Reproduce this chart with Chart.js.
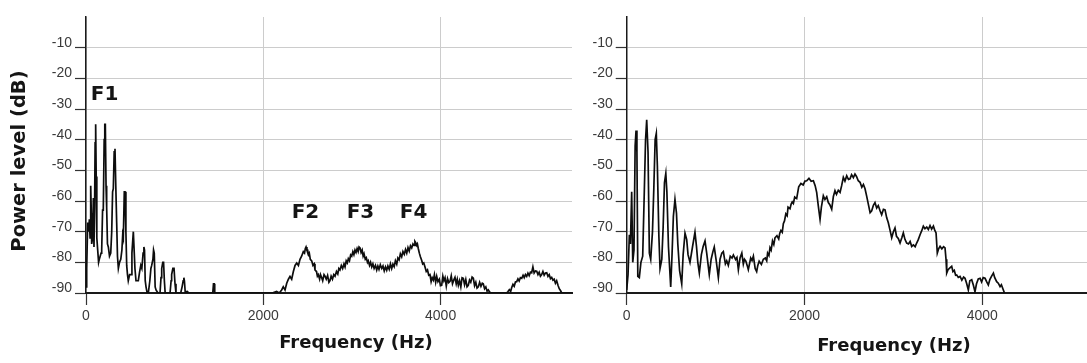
<!DOCTYPE html>
<html>
<head>
<meta charset="utf-8">
<script src="https://cdn.jsdelivr.net/npm/chart.js@4.4.1/dist/chart.umd.min.js"></script>
<style>
  html, body { margin: 0; padding: 0; background: #ffffff; }
  #wrap { position: relative; width: 1087px; height: 363px; overflow: hidden; background: #fff; }
  canvas { position: absolute; top: 0; }
  #cL { left: 0; }
  #cR { left: 580px; }
</style>
</head>
<body>
<div id="wrap">
  <canvas id="cL" width="580" height="363"></canvas>
  <canvas id="cR" width="507" height="363"></canvas>
</div>
<script>
// ---------- DATA ----------
const xTickValues = [0, 2000, 4000];
const yTickValues = [-90, -80, -70, -60, -50, -40, -30, -20, -10];
const yAxisTitle = 'Power level (dB)';
const xAxisTitle = 'Frequency (Hz)';

// formant labels (left panel)
const formantNames = ['F1', 'F2', 'F3', 'F4'];
const formantFreq  = [209, 2475, 3096, 3695];
const formantDb    = [-25.4, -63.7, -63.7, -63.7];

// left spectrum
const leftFreq = [0,8,19,30,38,46,53,60,64,75,83,90,97,103,109,115,122,132,142,150,160,170,177,187,195,205,212,218,226,233,242,252,265,279,290,300,308,318,327,336,346,355,365,378,392,405,414,421,432,440,450,459,468,477,492,508,518,527,534,541,552,564,577,590,605,618,630,644,653,660,668,677,690,703,720,732,741,755,762,770,780,790,812,835,846,854,866,875,884,893,910,930,948,960,966,980,993,1004,1015,1040,1068,1084,1096,1104,1110,1120,1140,1160,1200,1300,1430,1438,1446,1452,1600,1800,2000,2100,2150,2180,2207,2225,2245,2264,2283,2301,2320,2339,2358,2377,2396,2414,2432,2451,2465,2474,2482,2492,2500,2510,2519,2530,2546,2560,2574,2583,2600,2610,2620,2635,2645,2659,2670,2685,2696,2710,2725,2740,2752,2765,2780,2795,2809,2825,2840,2852,2865,2880,2895,2910,2922,2935,2948,2959,2972,2985,2997,3010,3022,3034,3046,3058,3070,3080,3091,3103,3115,3126,3136,3150,3162,3175,3184,3198,3210,3223,3236,3250,3265,3279,3292,3305,3320,3336,3350,3364,3378,3392,3405,3420,3434,3448,3462,3476,3490,3505,3518,3532,3546,3561,3575,3590,3604,3618,3632,3646,3660,3674,3688,3700,3710,3719,3728,3738,3748,3760,3772,3786,3798,3810,3824,3838,3852,3866,3880,3893,3905,3918,3930,3944,3956,3970,3985,3998,4012,4025,4037,4050,4064,4078,4092,4106,4120,4134,4148,4162,4176,4188,4200,4214,4228,4242,4256,4270,4284,4298,4312,4326,4340,4355,4369,4383,4397,4411,4425,4440,4455,4470,4481,4496,4510,4524,4538,4556,4576,4620,4680,4745,4760,4775,4790,4802,4816,4830,4844,4858,4872,4886,4900,4915,4930,4943,4957,4971,4985,4999,5013,5027,5041,5055,5070,5084,5098,5112,5126,5140,5154,5168,5182,5197,5211,5225,5239,5253,5267,5281,5295,5309,5324,5338,5352,5366,5480];
const leftDb = [-88,-82,-67,-70,-66,-72,-55,-64,-74,-72,-59,-75,-62,-41,-35,-52,-72,-76,-80,-79,-78,-77,-76,-63,-63,-40,-35,-35,-55,-62,-74,-75,-78,-77,-70,-57,-56,-44,-43,-55,-67,-78,-82,-80,-79,-76,-71,-72,-57,-57,-70,-81,-84,-86,-84,-84,-77,-73,-70,-70,-82,-86,-86,-86,-83,-81,-82,-77,-75,-76,-86,-88,-90,-90,-86,-82,-81,-79,-76,-77,-88,-89,-90,-90,-85,-82,-80,-80,-86,-90,-90,-90,-90,-86,-84,-82,-82,-87,-90,-90,-90,-88,-86,-85,-86,-90,-89.5,-90,-90,-90,-90,-87,-87,-90,-90,-90,-90,-90,-89.5,-90,-89,-88,-89,-86.8,-85.5,-84.6,-85.5,-83,-81,-80.2,-81,-79,-78,-76.5,-77,-75.5,-75,-76,-76,-77.5,-77,-79,-79.5,-81,-80.5,-82.5,-83,-84.5,-84,-85.5,-84,-85,-86,-84,-84.5,-85.5,-84.3,-86.5,-86,-84.5,-85.5,-84,-84.5,-83,-83.8,-82,-82.5,-81,-82,-80.5,-81.5,-79.5,-80.2,-78.8,-79.5,-77.6,-78,-76.5,-77.5,-76,-76.8,-75.5,-76.5,-75,-75.3,-76.8,-76,-78,-77.2,-79,-78.5,-80,-79.5,-81,-80,-81.5,-80.5,-82,-81,-82.5,-81.2,-82.3,-80.8,-82,-81.2,-82.8,-81.5,-82.6,-81.2,-82.3,-80.5,-82,-80.6,-81.4,-79.5,-80.6,-78.6,-79.2,-77.2,-78.2,-76.5,-77.4,-75.8,-77,-75.2,-76.3,-74.6,-75.3,-74,-74.5,-73.2,-73.6,-74.5,-74,-75.5,-77,-78.2,-79.3,-80.5,-80.2,-81.5,-83,-82.5,-84.2,-84,-86.3,-85,-85.8,-84,-86.5,-84.6,-86.3,-85.5,-87.6,-87.5,-84.5,-86,-85,-87.8,-85.3,-86.6,-86.2,-84.4,-87,-85.8,-84.9,-87,-85.5,-87.5,-86,-88,-85,-85.2,-87.3,-85.6,-88,-87.5,-85.8,-86.5,-84.8,-85.2,-87.6,-86.5,-88.4,-88,-86.5,-87.8,-86.8,-87,-88.6,-88,-89.4,-89,-89.8,-90,-90,-90,-90,-89.5,-88.9,-89.5,-88.2,-87.2,-87.8,-86.4,-86.3,-85.4,-86.1,-85,-85.2,-84.2,-85,-84,-84.6,-83.5,-84.3,-83.2,-83.4,-81.5,-83.5,-82.8,-82.9,-84,-83.2,-84.5,-84,-83,-84.2,-83.5,-83.4,-84.6,-84,-85.3,-84.9,-85.8,-85.5,-86.8,-86,-87.5,-88.6,-89.2,-90,-90];

// right spectrum
const rightFreq = [0,15,30,42,56,68,82,95,105,115,125,142,160,180,198,212,225,240,255,270,290,305,320,333,345,362,375,395,410,425,440,452,470,495,510,525,543,560,575,595,619,635,656,675,690,712,740,768,785,800,817,840,860,881,900,929,950,970,985,1005,1031,1050,1070,1087,1110,1125,1143,1165,1185,1200,1225,1240,1256,1275,1295,1312,1325,1340,1355,1368,1395,1410,1425,1445,1462,1475,1490,1515,1537,1560,1575,1585,1600,1612,1625,1640,1655,1668,1690,1710,1722,1735,1750,1762,1775,1790,1805,1815,1837,1850,1862,1875,1890,1912,1925,1935,1960,1985,2005,2025,2050,2075,2100,2120,2137,2155,2175,2190,2212,2230,2250,2268,2285,2306,2325,2343,2360,2380,2400,2418,2437,2455,2475,2495,2512,2530,2550,2568,2585,2605,2625,2645,2663,2681,2700,2718,2738,2756,2775,2793,2812,2830,2850,2868,2888,2906,2925,2943,2962,2981,3000,3018,3035,3055,3075,3095,3112,3130,3150,3170,3188,3206,3225,3245,3262,3280,3300,3320,3337,3355,3375,3393,3412,3430,3450,3465,3480,3494,3510,3525,3545,3565,3581,3592,3600,3615,3630,3645,3656,3670,3685,3700,3712,3730,3750,3770,3790,3806,3825,3843,3860,3881,3900,3918,3935,3955,3975,3992,4010,4031,4050,4068,4085,4105,4125,4140,4162,4180,4200,4215,4237,4250];
const rightDb = [-89,-84,-71,-74,-57,-80,-76,-42,-37,-44,-84.6,-85,-80,-78,-57,-40,-33.5,-44,-77,-79,-70,-56,-40,-38,-48.5,-71.5,-82,-79,-68.5,-54,-51,-57,-75,-88,-77.5,-65,-59.5,-64,-74,-82.7,-87,-77.5,-70.5,-72.6,-77.5,-80,-75,-70.2,-74.8,-80,-83.5,-77.5,-74.8,-73,-77,-84,-79,-76.5,-75,-79,-85,-79,-77,-76.5,-80.5,-79.5,-81,-78,-78.6,-77.6,-79.1,-78.4,-82.4,-78.6,-77,-80.6,-79,-79.6,-81,-82.4,-78.6,-79.4,-78,-82,-83,-81,-79.6,-80.7,-79,-78.6,-79.5,-77,-77.8,-75.2,-76,-73,-74.2,-72,-71.3,-72.4,-70.5,-69.6,-70.2,-67.4,-66.5,-64.2,-64.8,-62,-62.5,-61,-60.3,-60.8,-58.7,-59.2,-57,-55.4,-54.3,-54.8,-53.5,-53.4,-52.6,-53.6,-53.4,-55,-57.2,-61.5,-66,-62,-58.3,-59.5,-58.6,-60.5,-61.2,-62.7,-58.5,-56.6,-57.8,-56.5,-57.2,-55,-52.3,-53.5,-51.8,-53,-52.8,-51.4,-52.4,-51.2,-52,-53.4,-53.9,-55.5,-54.6,-56,-58.5,-61,-63.8,-63.2,-61.4,-60.5,-62.3,-61.5,-63.2,-64.5,-62.7,-62.9,-65.5,-67.1,-69.5,-72,-70,-68.8,-71.5,-72.2,-73.7,-72,-70.4,-72.5,-73.7,-74,-73.2,-74.8,-74.3,-74.9,-73.7,-72.6,-71,-69.6,-68.2,-69,-68.5,-69.3,-68,-69.2,-68.2,-69.5,-70.4,-77,-75.5,-74.8,-75.6,-74.9,-75.3,-79,-83.5,-82.4,-82,-81.6,-81.3,-83,-82.6,-84.2,-84.1,-84.9,-84.6,-85.8,-84.8,-85.2,-87,-89,-86,-85.7,-87.5,-89.6,-87,-85.4,-85.2,-86.4,-85,-85.2,-86.4,-87.4,-85.6,-84.5,-83.5,-85,-86.3,-86.8,-87.9,-87.3,-89,-90];

// ---------- HELPERS ----------
const tickFont = { family: '"Liberation Sans", Arial, sans-serif', size: 14 };
const boldFont = '"DejaVu Sans", Verdana, sans-serif';

function toPoints(xs, ys) { return xs.map((x, i) => ({ x: x, y: ys[i] })); }

const textPlugin = {
  id: 'textPlugin',
  afterDraw(chart, args, opts) {
    const ctx = chart.ctx;
    const xs = chart.scales.x, ys = chart.scales.y;
    ctx.save();
    ctx.fillStyle = '#151515';
    (opts.labels || []).forEach(l => {
      ctx.font = 'bold 20px ' + boldFont;
      ctx.textAlign = 'center';
      ctx.textBaseline = 'middle';
      ctx.fillText(l.text, xs.getPixelForValue(l.x), ys.getPixelForValue(l.y));
    });
    if (opts.xTitle) {
      ctx.font = 'bold 18px ' + boldFont;
      ctx.textAlign = 'center';
      ctx.textBaseline = 'alphabetic';
      ctx.fillText(opts.xTitle.text, opts.xTitle.px, opts.xTitle.py);
    }
    if (opts.yTitle) {
      ctx.translate(opts.yTitle.px, opts.yTitle.py);
      ctx.rotate(-Math.PI / 2);
      ctx.font = 'bold 19.5px ' + boldFont;
      ctx.textAlign = 'center';
      ctx.textBaseline = 'middle';
      ctx.fillText(opts.yTitle.text, 0, 0);
    }
    ctx.restore();
  }
};

function makeOptions(xMax, yWidth, padRight, pluginOpts) {
  return {
    responsive: false,
    animation: false,
    devicePixelRatio: 1,
    layout: { padding: { top: 17, right: padRight, left: 0, bottom: 0 } },
    plugins: { legend: { display: false }, tooltip: { enabled: false }, textPlugin: pluginOpts },
    elements: { point: { radius: 0 }, line: { tension: 0 } },
    scales: {
      x: {
        type: 'linear', min: 0, max: xMax,
        afterBuildTicks: s => { s.ticks = xTickValues.map(v => ({ value: v })); },
        afterFit: s => { s.height = 70; },
        ticks: { font: tickFont, color: '#3a3a3a', padding: 3, maxRotation: 0, autoSkip: false,
                 callback: v => String(v) },
        grid: { color: '#cccccc', lineWidth: 1, tickLength: 12, tickColor: '#333', tickWidth: 1.2 },
        border: { display: true, color: '#1a1a1a', width: 2 }
      },
      y: {
        type: 'linear', min: -90, max: 0,
        afterBuildTicks: s => { s.ticks = yTickValues.concat([0]).map(v => ({ value: v })); },
        afterFit: s => { s.width = yWidth; },
        ticks: { font: tickFont, color: '#3a3a3a', padding: 3, labelOffset: -5,
                 callback: v => (v === 0 ? '' : String(v)) },
        grid: {
          color: c => (c.tick && c.tick.value === 0 ? 'rgba(0,0,0,0)' : '#cccccc'),
          tickColor: c => (c.tick && c.tick.value === 0 ? 'rgba(0,0,0,0)' : '#333'),
          lineWidth: 1, tickLength: 11, tickWidth: 1.2
        },
        border: { display: true, color: '#1a1a1a', width: 1.5 }
      }
    }
  };
}

const lineStyle = { borderColor: '#0d0d0d', borderWidth: 1.7, pointRadius: 0, fill: false, tension: 0 };

new Chart(document.getElementById('cL'), {
  type: 'line',
  data: { datasets: [Object.assign({ data: toPoints(leftFreq, leftDb) }, lineStyle)] },
  options: makeOptions(5482, 86, 8, {
    labels: formantNames.map((t, i) => ({ text: t, x: formantFreq[i], y: formantDb[i] })),
    xTitle: { text: xAxisTitle, px: 356, py: 348 },
    yTitle: { text: yAxisTitle, px: 20, py: 161 }
  }),
  plugins: [textPlugin]
});

new Chart(document.getElementById('cR'), {
  type: 'line',
  data: { datasets: [Object.assign({ data: toPoints(rightFreq, rightDb) }, lineStyle)] },
  options: makeOptions(5178, 46.7, 0, {
    labels: [],
    xTitle: { text: xAxisTitle, px: 314, py: 351 }
  }),
  plugins: [textPlugin]
});
</script>
</body>
</html>
